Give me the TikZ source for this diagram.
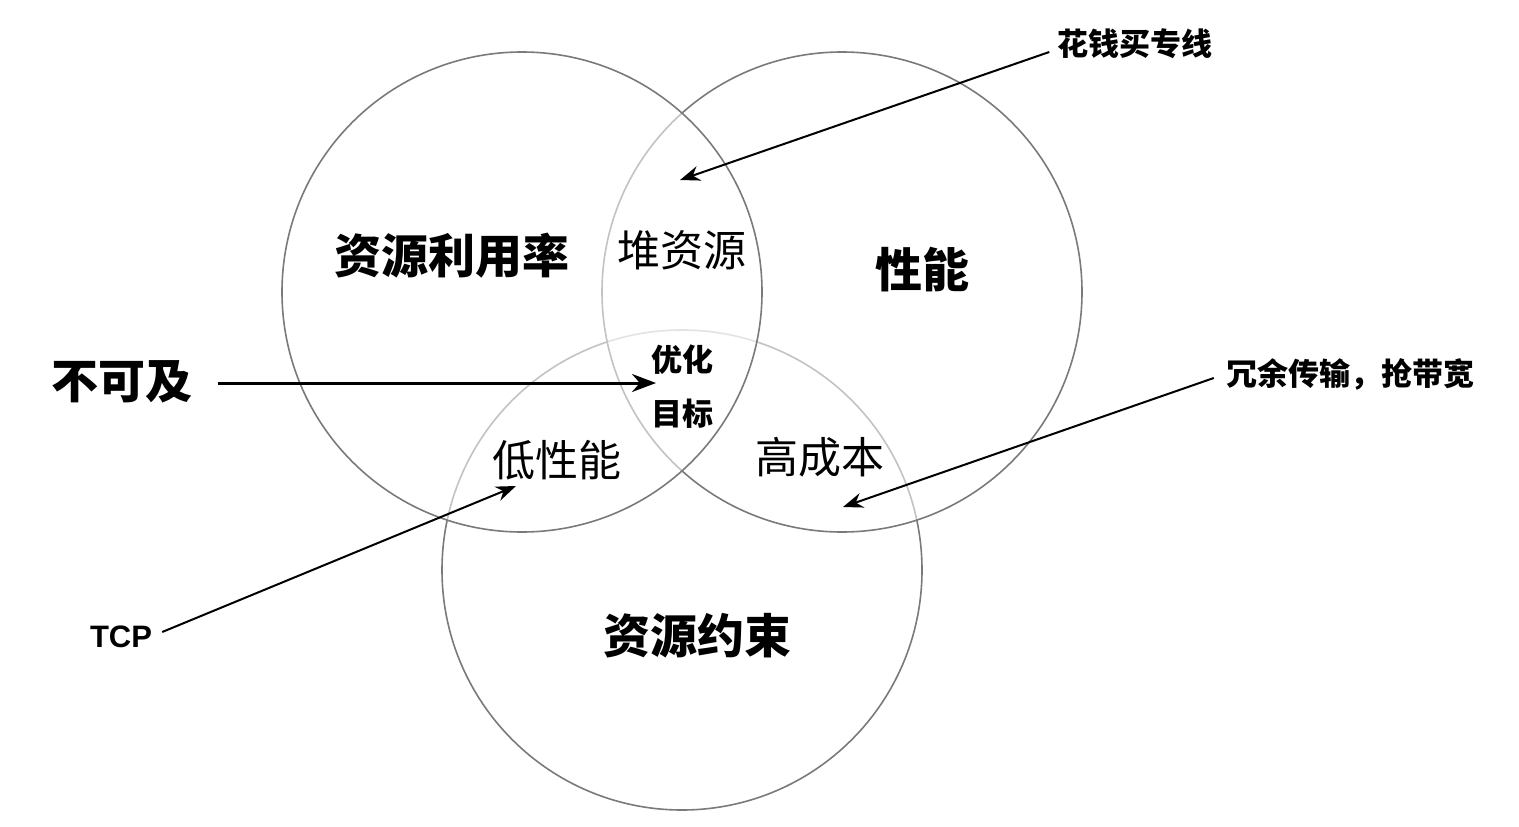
\documentclass[tikz,border=0pt]{standalone}
\usepackage{fontspec}
\usepackage{tikz}
\usetikzlibrary{arrows.meta}
\newfontfamily\cjk{Noto Sans CJK SC}
\newfontfamily\latim{Liberation Sans}
\definecolor{cLinha}{HTML}{7A7A7A}

\begin{document}
\begin{tikzpicture}[x=1pt, y=-1pt, >=Stealth]
  \tikzset{
    conjunto/.style={draw=cLinha, line width=1.6pt, fill=white, fill opacity=0.55},
    rotulo/.style={font=\cjk\bfseries\fontsize{47}{50}\selectfont, inner sep=0pt},
    regiao/.style={font=\cjk\fontsize{43}{46}\selectfont, inner sep=0pt},
    nota/.style={font=\cjk\bfseries\fontsize{31}{34}\selectfont, inner sep=0pt},
    seta/.style={->, line width=2pt, -{Stealth[length=20pt, width=15pt]}}
  }
  \useasboundingbox (0,0) rectangle (1519,827);
  \def\r{240}
  % circulos (de tras para frente)
  \draw[conjunto] (682,570) circle (\r);
  \draw[conjunto] (842,292) circle (\r);
  \draw[conjunto] (522,292) circle (\r);
  % nomes dos conjuntos
  \node[rotulo] (util) at (452,256) {资源利用率};
  \node[rotulo] (perf) at (922,270) {性能};
  \node[rotulo] (rest) at (697,636) {资源约束};
  % intersecoes
  \node[regiao] (pilha) at (682,250) {堆资源};
  \node[regiao] (baixo) at (557,460) {低性能};
  \node[regiao] (custo) at (820,457) {高成本};
  \node[nota, align=center, font=\cjk\bfseries\fontsize{31}{54}\selectfont] (alvo) at (682,387) {优化\\目标};
  % anotacoes externas
  \node[rotulo] (inac) at (122,382) {不可及};
  \node[nota] (linha) at (1135,44) {花钱买专线};
  \node[nota] (banda) at (1350,374) {冗余传输，抢带宽};
  \node[nota, font=\latim\bfseries\fontsize{31}{34}\selectfont] (tcp) at (121,637) {TCP};
  % pontas das setas
  \coordinate (pInac) at (656,383);
  \coordinate (pLinha) at (680,180);
  \coordinate (pBanda) at (843,507);
  \coordinate (pTcp) at (516,486);
  \draw[seta, line width=3pt, -{Stealth[length=24pt, width=18pt]}] (inac.east) ++(25,1) -- (pInac);
  \draw[seta] (linha.west) ++(-8,8) -- (pLinha);
  \draw[seta] (banda.west) ++(-12,4) -- (pBanda);
  \draw[seta] (tcp.east) ++(10,-5) -- (pTcp);
\end{tikzpicture}
\end{document}
